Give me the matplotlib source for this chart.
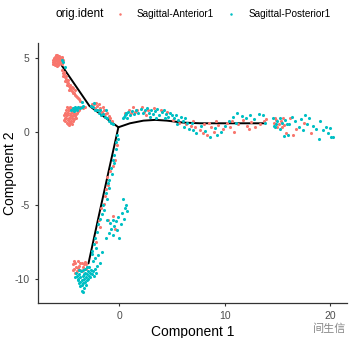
import matplotlib
matplotlib.use("Agg")
import matplotlib.pyplot as plt
from matplotlib.lines import Line2D
import numpy as np

plt.rcParams["font.family"] = ["Liberation Sans", "Noto Sans CJK SC", "DejaVu Sans"]
plt.rcParams["axes.unicode_minus"] = False

RED = "#F8766D"
TEAL = "#00BFC4"

# trajectory backbone (Component 1, Component 2)
upper_x = [-5.47, -2.85, -0.1]
upper_y = [4.49, 1.75, 0.3]
right_x = [-0.1, 1.0, 2.28, 3.4, 4.5, 6.0, 7.66, 13.74]
right_y = [0.3, 0.57, 0.75, 0.8, 0.75, 0.62, 0.57, 0.57]
down_x = [-0.1, -1.0, -2.0, -2.94]
down_y = [0.3, -2.6, -5.85, -8.95]

# cells: Sagittal-Anterior1
anterior = [
    # top-left cluster
    (-6.3, 4.9), (-6.2, 5.0), (-6.1, 5.1), (-6.0, 5.15), (-5.9, 5.2), (-5.8, 5.1), (-5.7, 5.15),
    (-5.6, 5.05), (-5.5, 4.95), (-5.4, 4.85), (-6.35, 4.75), (-6.2, 4.7), (-6.1, 4.8), (-6.0, 4.9),
    (-5.9, 5.0), (-5.8, 4.9), (-5.7, 4.85), (-5.6, 4.75), (-5.5, 4.7), (-6.25, 4.6), (-6.1, 4.55),
    (-5.95, 4.65), (-5.85, 4.75), (-5.75, 4.6), (-5.65, 4.65), (-6.15, 5.0), (-6.05, 4.95),
    (-5.95, 4.8), (-5.85, 5.05), (-5.75, 5.0), (-5.65, 4.95), (-5.55, 4.85), (-6.3, 4.6),
    (-6.0, 4.5), (-5.9, 4.45), (-6.2, 4.85), (-5.5, 5.05), (-5.45, 4.6), (-6.05, 5.2), (-5.8, 4.55),
    # upper segment spray
    (-5.5, 4.2), (-5.4, 4.0), (-5.3, 3.9), (-5.35, 3.75), (-5.2, 3.7), (-5.1, 3.6), (-5.15, 3.45),
    (-5.0, 3.4), (-4.9, 3.3), (-4.95, 3.15), (-4.8, 3.1), (-4.7, 3.0), (-4.75, 2.85), (-4.6, 2.8),
    (-4.5, 2.75), (-4.4, 2.65), (-4.3, 2.6), (-4.2, 2.5), (-4.1, 2.45), (-4.0, 2.35), (-3.9, 2.3),
    (-3.8, 2.2), (-4.55, 3.05), (-5.25, 4.05), (-5.05, 3.8), (-4.85, 3.5), (-4.65, 3.2),
    (-4.45, 2.95), (-4.25, 2.8), (-3.7, 2.1),
    # lower-left cluster
    (-5.2, 0.9), (-5.1, 1.1), (-5.0, 1.3), (-4.9, 1.5), (-4.8, 1.6), (-4.7, 1.7), (-5.15, 0.7),
    (-5.0, 0.6), (-4.85, 0.5), (-4.7, 0.6), (-4.6, 0.75), (-4.5, 0.9), (-4.4, 1.1), (-4.3, 1.3),
    (-4.2, 1.45), (-5.05, 0.95), (-4.95, 1.15), (-4.85, 1.3), (-4.75, 1.45), (-4.65, 1.55),
    (-4.9, 0.8), (-4.8, 0.95), (-4.7, 1.1), (-4.6, 1.25), (-4.5, 1.4), (-4.75, 0.75), (-4.65, 0.9),
    (-4.55, 1.05), (-4.45, 0.7), (-4.35, 0.85), (-5.25, 1.1), (-5.2, 1.3), (-5.1, 1.45),
    (-4.95, 1.65), (-4.6, 1.6), (-4.4, 1.5), (-4.25, 1.05), (-4.15, 1.2), (-4.0, 1.3), (-3.9, 1.4),
    (-3.8, 1.5), (-4.1, 0.95), (-5.3, 0.8), (-4.8, 0.45), (-4.55, 0.55), (-3.7, 1.65), (-3.5, 1.6),
    (-3.3, 1.7),
    # branch -> centre
    (-2.6, 1.9), (-2.4, 1.85), (-2.3, 1.6), (-2.1, 1.75), (-2.0, 1.5), (-1.8, 1.6), (-1.7, 1.35),
    (-1.5, 1.45), (-1.4, 1.2), (-1.2, 1.3), (-1.0, 1.05), (-0.9, 0.9), (-2.2, 1.95), (-1.9, 1.85),
    (-1.6, 1.7), (-0.7, 0.75),
    # right branch
    (0.5, 1.3), (0.9, 1.5), (1.1, 1.25), (1.3, 1.65), (1.7, 1.45), (2.1, 1.7), (2.3, 1.35),
    (2.7, 1.45), (3.3, 1.6), (3.9, 1.45), (4.5, 1.35), (5.1, 0.8), (5.7, 0.6), (6.3, 0.5),
    (6.8, 0.4), (7.0, 0.7), (1.5, 1.35), (2.5, 1.1),
    (7.2, 0.3), (7.6, 0.1), (8.0, 0.5), (8.3, -0.2), (8.7, 0.3), (9.0, 0.0), (9.4, 0.45),
    (9.8, 0.2), (10.2, 0.6), (10.5, 0.35), (10.9, 0.0), (11.3, 0.55), (11.7, 0.8), (12.1, 0.4),
    (12.5, 0.65), (12.9, 0.3), (13.3, 0.5), (13.7, 0.7), (13.9, 0.85), (7.9, -0.1), (9.2, 0.7),
    (10.7, 0.75), (12.3, 0.2), (8.5, 0.6),
    # far right
    (14.7, 0.6), (14.9, 0.8), (15.1, 0.5), (15.3, 0.7), (15.5, 0.9), (15.0, 0.35), (15.6, 0.45),
    (14.8, 0.95), (15.4, 0.3), (16.2, 0.9), (16.8, 0.2), (17.5, 0.6), (18.2, -0.1), (16.5, -0.2),
    (15.8, -0.1),
    # down branch
    (-0.25, -0.9), (-0.45, -1.9), (-0.85, -2.7), (-1.15, -3.1), (-1.05, -3.6), (-1.4, -4.4),
    (-1.45, -4.9), (-1.75, -5.2), (-1.95, -6.0), (-1.85, -6.5), (-2.25, -7.5), (-0.6, -2.3),
    (-1.25, -3.9), (-0.6, -5.7), (-0.4, -6.6), (-1.1, -6.0),
    # bottom cluster
    (-4.4, -9.0), (-4.3, -9.3), (-4.2, -8.9), (-4.1, -9.2), (-4.0, -9.5), (-3.9, -8.8),
    (-3.8, -9.1), (-3.7, -9.4), (-3.6, -8.9), (-3.5, -9.2), (-3.4, -9.0), (-3.3, -8.85),
    (-3.2, -9.3), (-4.45, -9.4), (-4.25, -9.6), (-3.95, -9.25), (-3.75, -8.95), (-3.55, -9.5),
    (-3.15, -9.0), (-4.35, -8.8), (-3.05, -9.2),
]

# cells: Sagittal-Posterior1
posterior = [
    (-5.5, 4.9), (-5.4, 4.75), (-3.6, 2.05), (-5.2, 4.4),
    (-4.3, 1.55), (-4.2, 1.65), (-4.1, 1.55), (-4.0, 1.6), (-3.9, 1.65), (-4.45, 1.6),
    (-4.35, 1.4), (-4.05, 1.45), (-3.75, 1.6), (-3.6, 1.7), (-3.5, 1.75), (-4.6, 1.45),
    (-2.7, 1.75), (-2.5, 1.65), (-2.35, 1.45), (-2.15, 1.45), (-1.95, 1.3), (-1.75, 1.15),
    (-1.55, 1.2), (-1.35, 1.0), (-1.15, 0.95), (-0.95, 0.75), (-0.8, 0.6), (-0.6, 0.5),
    (-1.85, 1.45), (-1.3, 1.45), (-2.45, 1.95),
    (0.3, 0.9), (0.5, 1.1), (0.7, 0.95), (0.6, 1.25),
    # right branch
    (0.4, 1.0), (0.6, 1.2), (0.8, 1.35), (1.0, 1.1), (1.2, 1.4), (1.4, 1.2), (1.6, 1.5),
    (1.8, 1.3), (2.0, 1.55), (2.2, 1.25), (2.4, 1.45), (2.6, 1.6), (2.8, 1.3), (3.0, 1.5),
    (3.2, 1.2), (3.4, 1.4), (3.6, 1.55), (3.8, 1.1), (4.0, 1.35), (4.2, 1.5), (4.4, 1.2),
    (4.6, 1.0), (4.8, 1.3), (5.0, 1.1), (5.2, 0.9), (5.4, 1.15), (5.6, 0.8), (5.8, 1.0),
    (6.0, 0.7), (6.2, 0.9), (6.4, 0.6), (2.9, 1.0), (3.5, 0.95), (4.3, 0.95), (5.5, 0.5),
    (6.1, 0.35), (6.6, 0.2),
    (6.9, 0.6), (7.3, -0.1), (7.7, 0.4), (8.1, 0.05), (8.6, -0.36), (9.1, 0.25), (9.6, -0.05),
    (10.0, 0.4), (10.4, 0.75), (10.8, 1.0), (11.1, 0.6), (11.2, 1.25), (11.6, 1.05), (12.0, 0.95),
    (12.4, 1.1), (12.8, 0.85), (13.2, 1.2), (13.6, 1.15), (13.8, 0.6), (9.3, -0.2), (7.0, 0.1),
    # far right
    (14.6, 0.9), (14.7, 0.4), (14.9, 0.55), (15.0, 0.75), (15.2, 0.95), (15.4, 0.6), (15.7, 0.8),
    (15.9, 0.5), (15.2, 0.2), (14.8, 0.3), (16.1, 0.55), (16.4, 1.0), (16.7, 0.7), (17.0, 0.3),
    (17.2, 0.85), (17.4, 0.1), (17.8, 0.55), (18.0, 0.95), (18.4, 0.4), (18.7, 0.2), (19.0, 0.75),
    (19.3, 0.1), (19.6, 0.3), (19.8, -0.1), (20.0, 0.25), (20.1, -0.36), (20.3, -0.36),
    (15.6, -0.3), (16.0, -0.2), (18.9, -0.5), (17.6, 1.1),
    # down branch
    (-0.2, -0.2), (-0.35, -0.7), (-0.3, -1.2), (-0.55, -1.6), (-0.5, -2.1), (-0.8, -2.5),
    (-0.7, -2.9), (-0.95, -3.3), (-1.0, -3.8), (-1.3, -4.2), (-1.2, -4.6), (-1.6, -5.0),
    (-1.5, -5.3), (-1.8, -5.9), (-2.0, -6.3), (-2.1, -6.8), (-2.3, -7.2), (-2.4, -7.6),
    (-2.2, -7.9), (-2.6, -8.1), (-0.15, -0.5), (-0.65, -1.9), (-1.1, -3.5), (-1.7, -5.6),
    # side spray
    (0.3, -4.6), (0.5, -5.2), (0.7, -5.4), (0.2, -5.5), (-0.1, -5.8), (0.4, -5.9), (-0.3, -6.1),
    (0.1, -6.3), (-0.5, -6.4), (-0.8, -6.6), (-0.2, -6.7), (-1.0, -6.9), (-0.6, -7.0),
    (-1.3, -7.2), (0.0, -7.2), (-0.9, -6.2), (0.6, -5.0), (-1.2, -6.0), (-0.6, -6.0),
    # bottom cluster
    (-4.1, -9.6), (-4.0, -9.8), (-3.9, -10.0), (-3.8, -9.7), (-3.7, -9.9), (-3.6, -10.1),
    (-3.5, -9.8), (-3.4, -10.0), (-3.3, -9.6), (-3.2, -9.9), (-3.1, -9.7), (-3.0, -9.5),
    (-2.9, -9.8), (-2.8, -9.6), (-2.7, -9.4), (-2.6, -9.7), (-2.5, -9.5), (-3.85, -10.3),
    (-3.7, -10.5), (-3.6, -10.8), (-3.55, -10.4), (-3.45, -10.3), (-3.35, -10.6), (-3.25, -10.2),
    (-3.95, -10.1), (-3.65, -9.5), (-3.45, -9.4), (-3.25, -9.3), (-3.05, -9.2), (-2.85, -9.2),
    (-4.2, -9.9), (-3.75, -10.2), (-3.15, -10.4), (-2.95, -10.0), (-2.4, -9.8), (-2.3, -9.3),
    (-2.2, -9.6), (-3.5, -10.9), (-3.8, -9.4), (-3.35, -9.7), (-2.75, -9.9), (-3.05, -10.1),
    (-2.6, -8.3), (-2.3, -8.6), (-2.0, -8.4), (-1.8, -8.9), (-2.1, -9.1), (-1.7, -8.2), (-2.5, -8.8),
]

groups = ["Sagittal-Anterior1", "Sagittal-Posterior1"]

fig = plt.figure(figsize=(3.53, 3.38), dpi=100)
ax = fig.add_axes([0.108, 0.104, 0.875, 0.769])

for xs, ys in [(upper_x, upper_y), (right_x, right_y), (down_x, down_y)]:
    ax.plot(xs, ys, color="black", linewidth=1.4, solid_capstyle="round", zorder=1)

for pts, col in [(anterior, RED), (posterior, TEAL)]:
    arr = np.array(pts)
    ax.scatter(arr[:, 0], arr[:, 1], s=5, color=col, linewidths=0, zorder=2)

ax.set_xlim(-7.72, 21.6)
ax.set_ylim(-11.63, 6.03)
ax.set_xticks([0, 10, 20])
ax.set_yticks([5, 0, -5, -10])
for s in ["top", "right"]:
    ax.spines[s].set_visible(False)
for s in ["left", "bottom"]:
    ax.spines[s].set_color("#333333")
    ax.spines[s].set_linewidth(0.9)
ax.tick_params(colors="#333333", labelcolor="#4d4d4d", labelsize=7.5, length=2.5, width=0.8)
ax.set_xlabel("Component 1", fontsize=10, labelpad=3)
ax.set_ylabel("Component 2", fontsize=10, va="center")
ax.yaxis.set_label_coords(-0.092, 0.5)

fig.text(55 / 353, 1 - 14 / 338, "orig.ident", fontsize=8.5, va="center", ha="left")
handles = [Line2D([], [], marker="o", linestyle="", markersize=1.8, color=c, markeredgewidth=0)
           for c in (RED, TEAL)]
fig.legend(handles, groups, loc="center left", bbox_to_anchor=(114 / 353, 1 - 14 / 338),
           ncol=2, frameon=False, fontsize=7.2, handlelength=1.2, handletextpad=1.1,
           columnspacing=1.1, borderpad=0, borderaxespad=0)

fig.text(330 / 353, 1 - 329 / 338, "间生信", fontsize=8, color="#888888", ha="center", va="center")

fig.savefig("out.png", dpi=100)
